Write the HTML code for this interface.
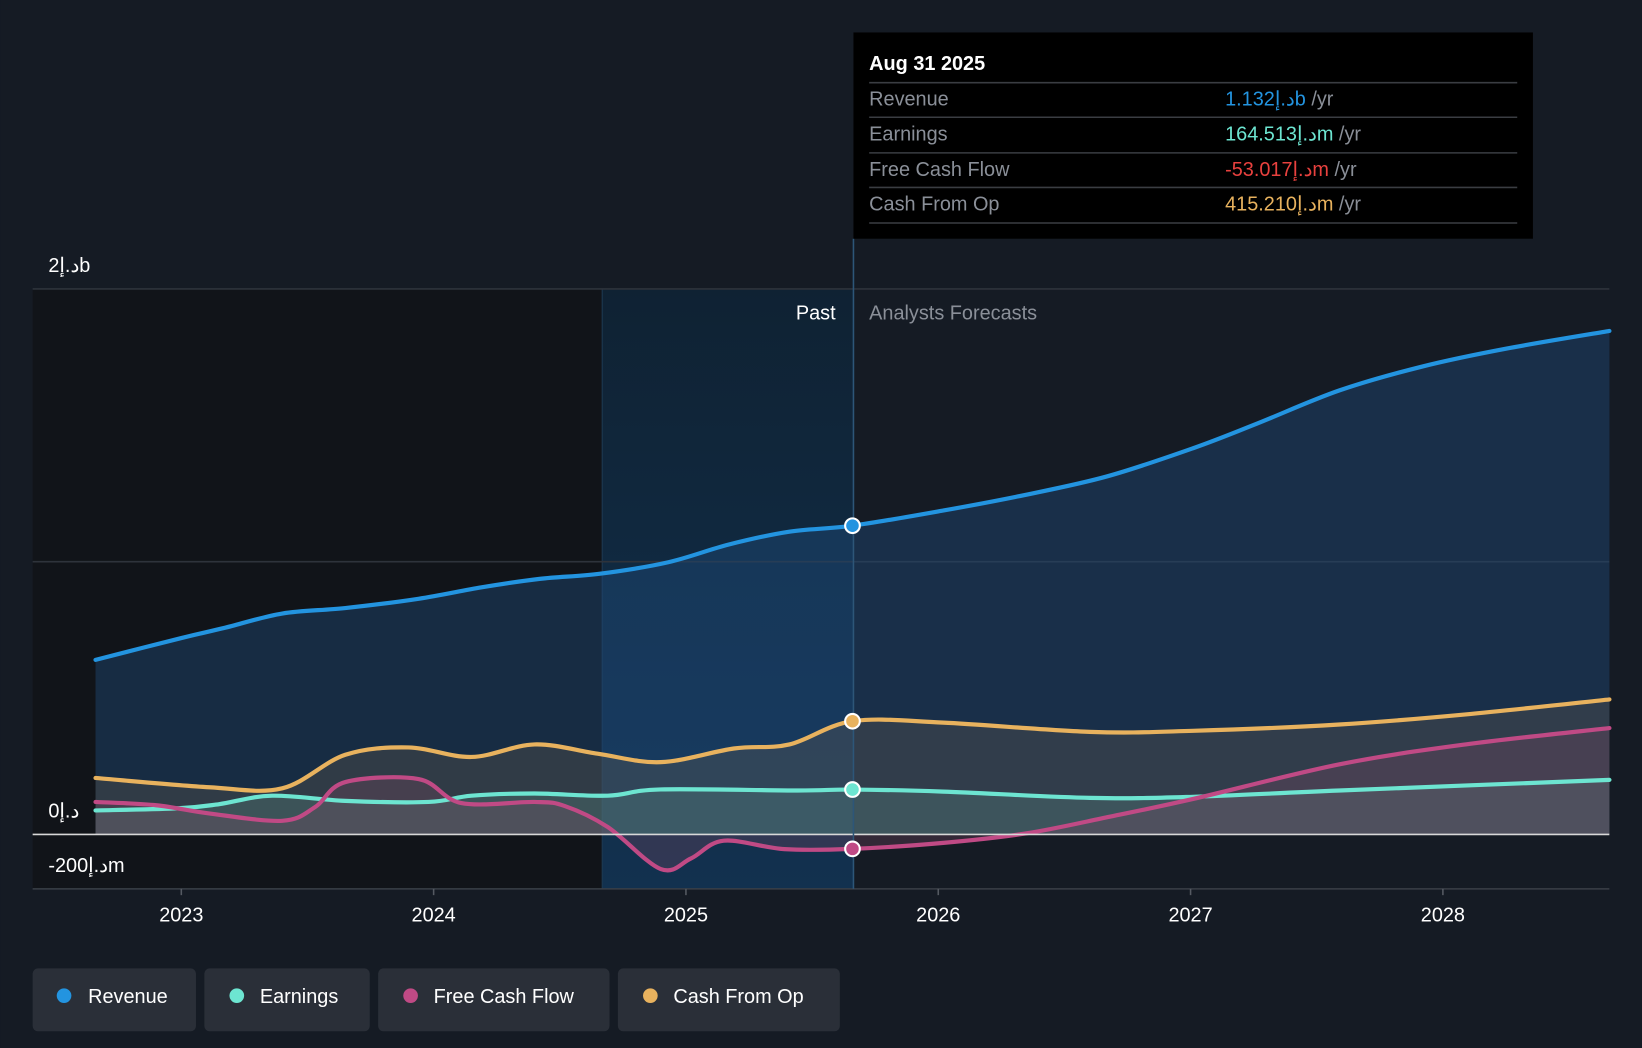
<!DOCTYPE html>
<html><head><meta charset="utf-8"><style>
html,body{margin:0;padding:0;background:#151b24;}
svg{display:block;font-family:"Liberation Sans","Noto Sans CJK SC",sans-serif;}
.lt{unicode-bidi:bidi-override;direction:ltr;}
</style></head><body>
<svg id="chart" width="1642" height="1048" viewBox="0 0 1568 1001" xmlns="http://www.w3.org/2000/svg">
<rect x="0" y="0" width="1568" height="1001" fill="#151b24"/>
<rect x="31" y="276" width="544" height="573" fill="#111419"/>
<defs>
<linearGradient id="hl" x1="0" y1="0" x2="0" y2="1"><stop offset="0" stop-color="#0f2233"/><stop offset="1" stop-color="#12314f"/></linearGradient>
</defs>
<rect x="575" y="276" width="240" height="573" fill="url(#hl)"/>
<line x1="575" y1="276" x2="575" y2="849" stroke="#1e3a52" stroke-width="1"/>
<g id="grid"></g>
<g id="areas"></g>
<g id="lines"></g>
<line x1="815" y1="228" x2="815" y2="849" stroke="#2d5678" stroke-width="1.5"/>
<g id="dots"></g>
<text x="798" y="305" fill="#ffffff" font-size="19" text-anchor="end">Past</text>
<text x="830" y="305" fill="#8a8f98" font-size="19">Analysts Forecasts</text>
<g id="ylabels"></g>
<g id="xlabels"></g>
<g>
<rect x="815" y="31" width="649" height="197" fill="#000000"/>
<text x="830" y="67" fill="#ffffff" font-size="19" font-weight="bold">Aug 31 2025</text>
<line x1="830" y1="79" x2="1449" y2="79" stroke="#3a3d42" stroke-width="1.5"/>
<line x1="830" y1="112" x2="1449" y2="112" stroke="#3a3d42" stroke-width="1.5"/>
<line x1="830" y1="146" x2="1449" y2="146" stroke="#3a3d42" stroke-width="1.5"/>
<line x1="830" y1="179" x2="1449" y2="179" stroke="#3a3d42" stroke-width="1.5"/>
<line x1="830" y1="213" x2="1449" y2="213" stroke="#3a3d42" stroke-width="1.5"/>
<text x="830" y="101" fill="#8a8f98" font-size="19">Revenue</text>
<text x="830" y="134" fill="#8a8f98" font-size="19">Earnings</text>
<text x="830" y="168" fill="#8a8f98" font-size="19">Free Cash Flow</text>
<text x="830" y="201" fill="#8a8f98" font-size="19">Cash From Op</text>
<text class="lt" x="1170" y="101" font-size="19"><tspan fill="#2394e0">1.132إ.دb</tspan><tspan fill="#8a8f98"> /yr</tspan></text>
<text class="lt" x="1170" y="134" font-size="19"><tspan fill="#6de5d1">164.513إ.دm</tspan><tspan fill="#8a8f98"> /yr</tspan></text>
<text class="lt" x="1170" y="168" font-size="19"><tspan fill="#e8413e">-53.017إ.دm</tspan><tspan fill="#8a8f98"> /yr</tspan></text>
<text class="lt" x="1170" y="201" font-size="19"><tspan fill="#e8b25e">415.210إ.دm</tspan><tspan fill="#8a8f98"> /yr</tspan></text>
</g>
<g>
<g><rect x="31" y="925" width="156" height="60" rx="5" fill="#2a2f38"/><circle cx="61" cy="951" r="7" fill="#2394e0"/><text x="84" y="958" fill="#ffffff" font-size="19">Revenue</text></g>
<g><rect x="195" y="925" width="158" height="60" rx="5" fill="#2a2f38"/><circle cx="226" cy="951" r="7" fill="#6de5d1"/><text x="248" y="958" fill="#ffffff" font-size="19">Earnings</text></g>
<g><rect x="361" y="925" width="221" height="60" rx="5" fill="#2a2f38"/><circle cx="392" cy="951" r="7" fill="#c04a85"/><text x="414" y="958" fill="#ffffff" font-size="19">Free Cash Flow</text></g>
<g><rect x="590" y="925" width="212" height="60" rx="5" fill="#2a2f38"/><circle cx="621" cy="951" r="7" fill="#e8b25e"/><text x="643" y="958" fill="#ffffff" font-size="19">Cash From Op</text></g>
</g>
</svg>
<script>
const revYears=[2022.66,2023,2023.17,2023.4,2023.65,2023.94,2024.19,2024.42,2024.66,2024.93,2025.17,2025.41,2025.66,2026.01,2026.34,2026.67,2027.01,2027.26,2027.59,2027.92,2028.25,2028.66];
const revValues=[0.64,0.72,0.757,0.81,0.83,0.864,0.906,0.937,0.956,0.998,1.063,1.11,1.132,1.186,1.244,1.313,1.416,1.505,1.628,1.716,1.781,1.846];
const cfoYears=[2022.66,2023.11,2023.40,2023.65,2023.90,2024.15,2024.40,2024.65,2024.90,2025.19,2025.41,2025.66,2026.02,2026.60,2027.01,2027.59,2028.09,2028.66];
const cfoValues=[0.207,0.173,0.169,0.292,0.319,0.284,0.33,0.296,0.265,0.315,0.33,0.415,0.41,0.376,0.38,0.403,0.44,0.495];
const earnYears=[2022.66,2022.99,2023.15,2023.36,2023.65,2023.98,2024.15,2024.40,2024.69,2024.90,2025.44,2025.66,2026.02,2026.60,2027.01,2027.59,2028.66];
const earnValues=[0.088,0.096,0.111,0.142,0.123,0.119,0.142,0.15,0.142,0.165,0.161,0.1645,0.157,0.134,0.138,0.161,0.2];
const fcfYears=[2022.66,2022.90,2023.11,2023.40,2023.53,2023.65,2023.94,2024.11,2024.40,2024.52,2024.69,2024.90,2025.02,2025.15,2025.39,2025.66,2026.02,2026.35,2026.68,2027.01,2027.59,2028.09,2028.66];
const fcfValues=[0.119,0.107,0.077,0.05,0.1,0.192,0.203,0.115,0.119,0.104,0.027,-0.127,-0.088,-0.023,-0.054,-0.053,-0.031,0.004,0.065,0.13,0.257,0.33,0.39];
const yTicks=[2,0,-0.2];
const yTickLabels=["2إ.دb","0إ.د","-200إ.دm"];
const xTicks=[2023,2024,2025,2026,2027,2028];
const nowYear=2025.66;

const NS="http://www.w3.org/2000/svg";
function X(t){return 173+(t-2023)*241;}
function Y(v){return 797-v*260.5;}
function mk(tag,attrs,parent){const e=document.createElementNS(NS,tag);for(const k in attrs)e.setAttribute(k,attrs[k]);parent.appendChild(e);return e;}
function pathD(xs,vs){
  const p=xs.map((t,i)=>[X(t),Y(vs[i])]);
  let d="M"+p[0][0]+","+p[0][1];
  for(let i=0;i<p.length-1;i++){
    const p0=p[Math.max(0,i-1)],p1=p[i],p2=p[i+1],p3=p[Math.min(p.length-1,i+2)];
    const k=6;
    d+=" C"+(p1[0]+(p2[0]-p0[0])/k)+","+(p1[1]+(p2[1]-p0[1])/k)+" "+(p2[0]-(p3[0]-p1[0])/k)+","+(p2[1]-(p3[1]-p1[1])/k)+" "+p2[0]+","+p2[1];
  }
  return d;
}
const grid=document.getElementById('grid');
[2,1].forEach(v=>{const l=mk('line',{x1:31,x2:1537,y1:Y(v),y2:Y(v),stroke:'#2e333b','stroke-width':1.5},grid);

});
const ax=mk('line',{x1:31,x2:1537,y1:849,y2:849,stroke:'#3a3f47','stroke-width':1.5},grid);


const yl=document.getElementById('ylabels');
yTicks.forEach((v,i)=>{const t=mk('text',{x:46,y:Y(v)-16,fill:'#ffffff','font-size':19,'class':'lt'},yl);t.textContent=yTickLabels[i];

});
const xl=document.getElementById('xlabels');
xTicks.forEach(y=>{mk('line',{x1:X(y),x2:X(y),y1:849,y2:855,stroke:'#555a62','stroke-width':1.5},xl);
const t=mk('text',{x:X(y),y:880,fill:'#ffffff','font-size':19,'text-anchor':'middle'},xl);t.textContent=y;

});

const series=[
 {n:'revenue',xs:revYears,vs:revValues,c:'#2394e0',f:'#1e4a78',o:0.45},
 {n:'cash-from-op',xs:cfoYears,vs:cfoValues,c:'#e8b25e',f:'#6a6050',o:0.3},
 {n:'earnings',xs:earnYears,vs:earnValues,c:'#6de5d1',f:'#5a8a86',o:0.3},
 {n:'free-cash-flow',xs:fcfYears,vs:fcfValues,c:'#c04a85',f:'#7a4a64',o:0.3}
];
const areas=document.getElementById('areas'),lines=document.getElementById('lines'),dots=document.getElementById('dots');
series.forEach(s=>{
 const d=pathD(s.xs,s.vs);
 const a=mk('path',{d:d+" L"+X(s.xs[s.xs.length-1])+","+Y(0)+" L"+X(s.xs[0])+","+Y(0)+" Z",fill:s.f,'fill-opacity':s.o},areas);
 
 
 const l=mk('path',{d:d,fill:'none',stroke:s.c,'stroke-width':4,'stroke-linecap':'round'},lines);
 
 
 const i=s.xs.indexOf(nowYear);
 const c=mk('circle',{cx:X(nowYear),cy:Y(s.vs[i]),r:7,fill:s.c,stroke:'#ffffff','stroke-width':2},dots);
 
 
});
const z=mk('line',{x1:31,x2:1537,y1:Y(0),y2:Y(0),stroke:'#d8d8d8','stroke-width':1.5},lines);


</script>
</body></html>
